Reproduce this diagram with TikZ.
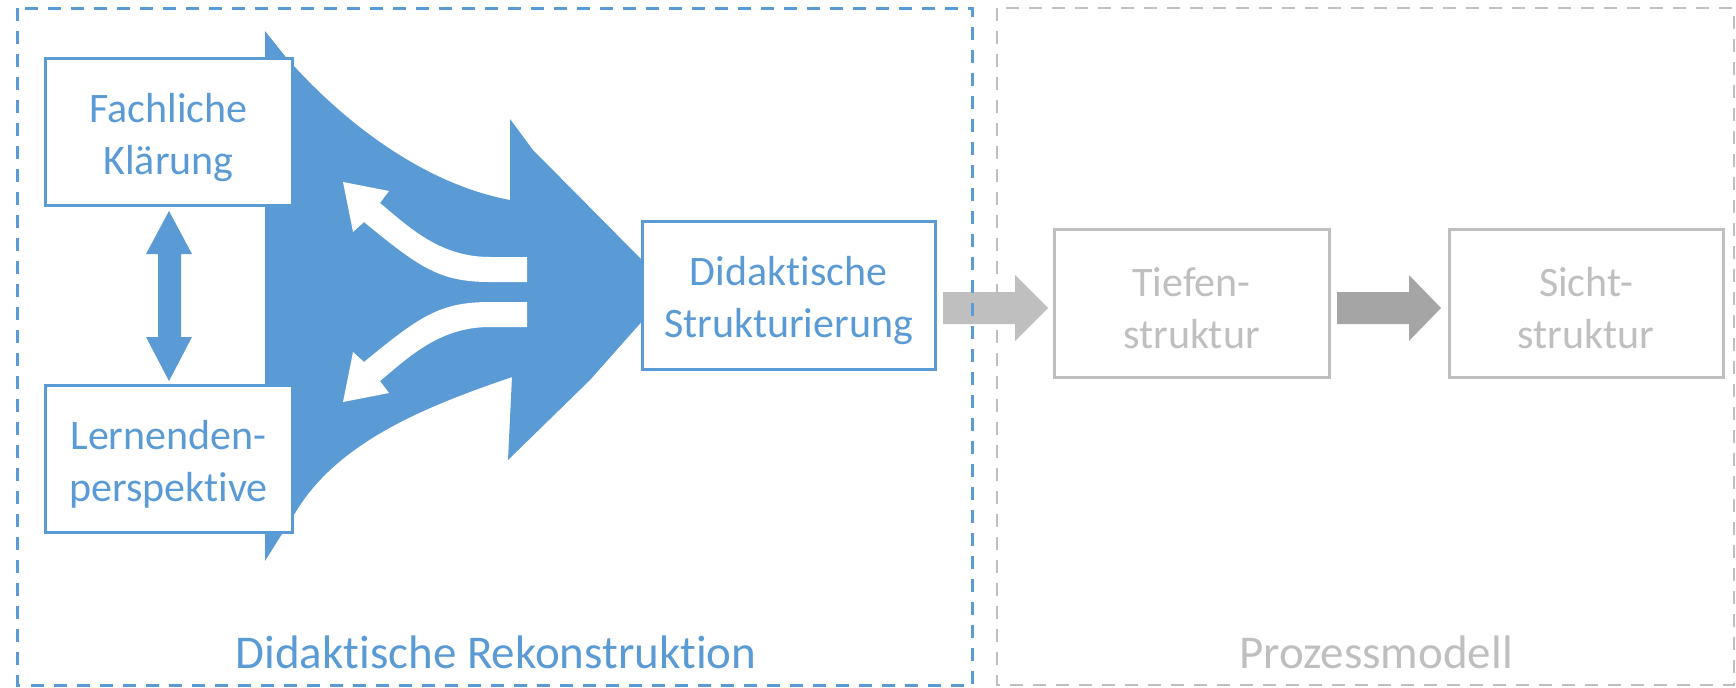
\documentclass[tikz,border=0pt]{standalone}
\usepackage{fontspec}
\setmainfont[Ligatures=NoCommon]{Carlito}
\definecolor{dblue}{HTML}{5B9BD5}
\definecolor{lgray}{HTML}{BFBFBF}
\definecolor{mgray}{HTML}{A5A5A5}
\begin{document}
\begin{tikzpicture}[x=0.5pt,y=-0.5pt,
  bluebox/.style={draw=dblue, line width=1.5pt, fill=white, inner sep=0pt},
  graybox/.style={bluebox, draw=lgray},
  boxtext/.style={align=center, inner sep=0pt, font=\fontsize{21}{26}\selectfont, yshift=-2.75pt},
  blueframe/.style={draw=dblue, line width=1.5pt, dash pattern=on 6.5pt off 5pt},
  grayframe/.style={draw=lgray, line width=1.25pt, dash pattern=on 6.5pt off 5pt},
  framelabel/.style={anchor=base, font=\fontsize{23.5}{28}\selectfont}]
\useasboundingbox (0,0) rectangle (1736,687);

% big blue funnel arrow
\fill[dblue] (265,31) -- (285,56) .. controls (350,130) and (430,185) .. (510,200)
  -- (510,119) -- (533,150) -- (645,263) -- (645,318) -- (590,380) -- (508,460)
  -- (512,377) .. controls (430,405) and (340,440) .. (297,510) -- (265,561) -- cycle;

% white curved arrows
\fill[white] (527,257) -- (527,282) -- (490,282) .. controls (440,282) and (420,268) .. (364,222)
  -- (353,232) -- (343,182) -- (389,191) -- (380,203) .. controls (410,228) and (440,257) .. (490,257) -- cycle;
\fill[white] (527,327) -- (527,302) -- (490,302) .. controls (440,302) and (420,316) .. (364,362)
  -- (353,352) -- (343,402) -- (389,393) -- (380,381) .. controls (410,356) and (440,327) .. (490,327) -- cycle;

% boxes
\node[bluebox, minimum width=123.5pt, minimum height=73.5pt] (fk) at (168.5,132) {};
\node[boxtext, text=dblue] (fkt) at (fk.center) {Fachliche\\Klärung};
\node[bluebox, minimum width=123.5pt, minimum height=73.5pt] (lp) at (168.5,458.5) {};
\node[boxtext, text=dblue] (lpt) at (lp.center) {Lernenden-\\perspektive};
\node[bluebox, minimum width=146.5pt, minimum height=74pt] (ds) at (788.5,295) {};
\node[boxtext, text=dblue] (dst) at (ds.center) {Didaktische\\Strukturierung};
\node[graybox, minimum width=137.5pt, minimum height=74pt] (ts) at (1191.5,303) {};
\node[boxtext, text=lgray] (tst) at (ts.center) {Tiefen-\\struktur};
\node[graybox, minimum width=137pt, minimum height=74pt] (ss) at (1586,303) {};
\node[boxtext, text=lgray] (sst) at (ss.center) {Sicht-\\struktur};

% vertical double arrow
\fill[dblue] (169,211) -- (192,254) -- (181,254) -- (181,337) -- (192,337) -- (169,381)
  -- (146,337) -- (158,337) -- (158,254) -- (146,254) -- cycle;

% gray block arrows
\fill[lgray] (943,292) -- (1015,292) -- (1015,275) -- (1048,308) -- (1015,341) -- (1015,324) -- (943,324) -- cycle;
\fill[mgray] (1337,292) -- (1409,292) -- (1409,275) -- (1441,308) -- (1409,341) -- (1409,324) -- (1337,324) -- cycle;

% frames
\draw[blueframe] (17.5,8) rectangle (972,685);
\draw[grayframe] (997,8) rectangle (1734,685);

\node[framelabel, text=dblue] (l1) at (496,668) {Didaktische Rekonstruktion};
\node[framelabel, text=lgray] (l2) at (1376,668) {Prozessmodell};
\end{tikzpicture}
\end{document}
